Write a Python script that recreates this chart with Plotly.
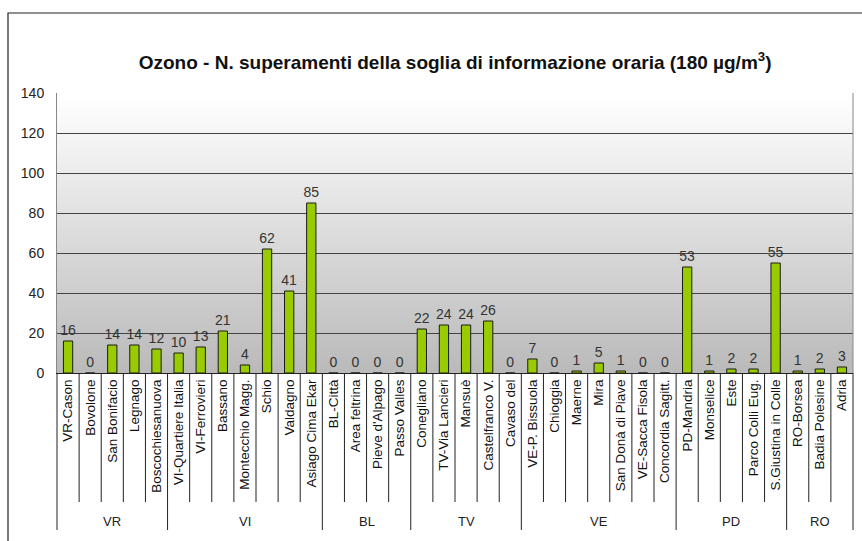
import plotly.graph_objects as go

stations = ["VR-Cason", "Bovolone", "San Bonifacio", "Legnago", "Boscochiesanuova",
            "VI-Quartiere Italia", "VI-Ferrovieri", "Bassano", "Montecchio Magg.", "Schio",
            "Valdagno", "Asiago Cima Ekar",
            "BL-Città", "Area feltrina", "Pieve d'Alpago", "Passo Valles",
            "Conegliano", "TV-Via Lancieri", "Mansuè", "Castelfranco V.", "Cavaso del",
            "VE-P. Bissuola", "Chioggia", "Maerne", "Mira", "San Donà di Piave",
            "VE-Sacca Fisola", "Concordia Sagitt.",
            "PD-Mandria", "Monselice", "Este", "Parco Colli Eug.", "S.Giustina in Colle",
            "RO-Borsea", "Badia Polesine", "Adria"]
values = [16, 0, 14, 14, 12,
          10, 13, 21, 4, 62, 41, 85,
          0, 0, 0, 0,
          22, 24, 24, 26, 0,
          7, 0, 1, 5, 1, 0, 0,
          53, 1, 2, 2, 55,
          1, 2, 3]
groups = ["VR", "VI", "BL", "TV", "VE", "PD", "RO"]
group_sizes = [5, 7, 4, 5, 7, 5, 3]
y_ticks = [0, 20, 40, 60, 80, 100, 120, 140]

n = len(stations)
xs = list(range(n))
FONT = "Liberation Sans, Arial, sans-serif"
YMAX = 140

fig = go.Figure()

fig.add_trace(go.Bar(
    x=xs, y=values, width=0.42,
    marker=dict(color="#99cc00", line=dict(color="#1a1a1a", width=1)),
    text=[str(v) for v in values], textposition="outside", constraintext="none",
    textfont=dict(size=14, color="#333333", family=FONT),
    cliponaxis=False, showlegend=False))

shapes = []
# gradient background bands (below gridlines)
nb = 70
for k in range(nb):
    t = (k + 0.5) / nb
    c = int(round(186 + (255 - 186) * t))
    shapes.append(dict(type="rect", xref="paper", yref="paper",
                       x0=0, x1=1, y0=k / nb, y1=(k + 1) / nb,
                       line=dict(width=0), fillcolor=f"rgb({c},{c},{c})", layer="below"))
# outer frame
shapes.append(dict(type="rect", xref="paper", yref="paper",
                   x0=-49 / 796, x1=1.05, y0=-0.7, y1=360 / 280,
                   line=dict(color="#222222", width=1.2), fillcolor="rgba(0,0,0,0)", layer="below"))
# category separators
boundaries = set()
acc = 0
for s in group_sizes:
    boundaries.add(acc)
    acc += s
boundaries.add(acc)
for i in range(n + 1):
    long = i in boundaries
    shapes.append(dict(type="line", xref="paper", yref="paper",
                       x0=i / n, x1=i / n, y0=0, y1=(-157 if long else -129) / 280,
                       line=dict(color="#222222", width=1)))
# right border of plot
shapes.append(dict(type="line", xref="paper", yref="paper", x0=1, x1=1, y0=0, y1=1,
                   line=dict(color="#888888", width=1)))

annotations = []
acc = 0
for g, s in zip(groups, group_sizes):
    annotations.append(dict(x=(acc + s / 2) / n, y=-148 / 280, xref="paper", yref="paper",
                            text=g, showarrow=False, xanchor="center", yanchor="middle",
                            font=dict(size=13, color="#222222", family=FONT)))
    acc += s

fig.update_layout(
    width=862, height=541,
    margin=dict(l=57, r=9, t=93, b=168),
    paper_bgcolor="white", plot_bgcolor="white",
    font=dict(family=FONT, color="#222222"),
    title=dict(text="<b>Ozono - N. superamenti della soglia di informazione oraria (180 µg/m<sup>3</sup>)</b>",
               x=0.528, xanchor="center", y=1 - 62 / 541, yanchor="middle", yref="container",
               font=dict(size=19, color="#111111", family=FONT)),
    shapes=shapes, annotations=annotations,
    bargap=0.5,
)
fig.update_xaxes(range=[-0.5, n - 0.5], tickmode="array", tickvals=xs, ticktext=stations,
                 tickangle=-90, tickfont=dict(size=13.5, color="#111111", family=FONT),
                 showgrid=False, zeroline=False, showline=True, linecolor="#222222", linewidth=1,
                 ticks="", ticklen=0)
fig.update_yaxes(range=[0, YMAX], tickmode="array", tickvals=y_ticks,
                 tickfont=dict(size=14, color="#222222", family=FONT),
                 showgrid=True, gridcolor="#444444", gridwidth=1, zeroline=False,
                 showline=True, linecolor="#888888", linewidth=1, ticks="", ticklabelstandoff=9)

fig.write_html("out.html", config={"displayModeBar": False},
               post_script="document.body.style.margin='0';")
